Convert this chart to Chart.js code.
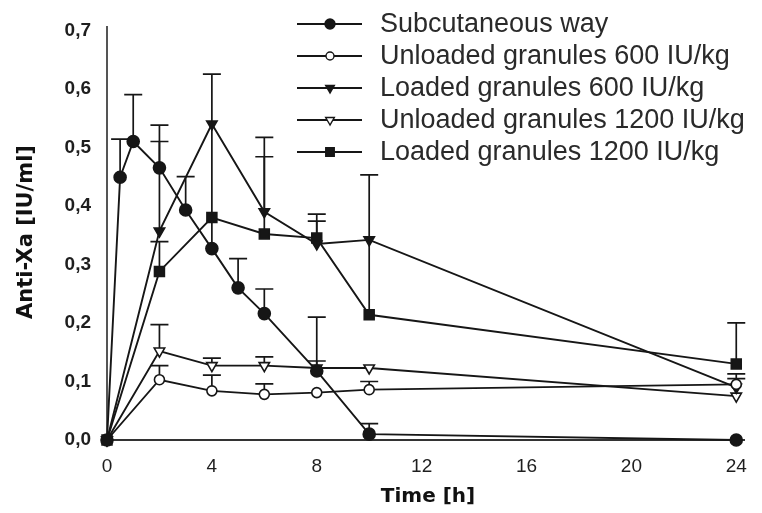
<!DOCTYPE html>
<html>
<head>
<meta charset="utf-8">
<script src="https://cdn.jsdelivr.net/npm/chart.js@4/dist/chart.umd.min.js"></script>
<style>
  html, body { margin: 0; padding: 0; background: #fff; }
  #wrap { width: 762px; height: 513px; }
</style>
</head>
<body>
<div id="wrap"><canvas id="c" width="762" height="513"></canvas></div>
<script>
// Anti-Xa activity over time for each administration route
const seriesNames = [
  'Subcutaneous way',
  'Unloaded granules 600 IU/kg',
  'Loaded granules 600 IU/kg',
  'Unloaded granules 1200 IU/kg',
  'Loaded granules 1200 IU/kg'
];
const subcutTimes  = [0, 0.5, 1, 2, 3, 4, 5, 6, 8, 10, 24];
const granuleTimes = [0, 2, 4, 6, 8, 10, 24];

const subcutaneous      = [0, 0.449, 0.51, 0.465, 0.393, 0.327, 0.26, 0.216, 0.118, 0.01, 0.0];
const subcutaneousTop   = [null, 0.514, 0.59, 0.51, 0.45, 0.625, 0.31, 0.258, 0.21, 0.028, null];

const unloaded600       = [0, 0.103, 0.084, 0.078, 0.081, 0.086, 0.095];
const unloaded600Top    = [null, 0.127, 0.111, 0.096, null, 0.1, 0.105];

const loaded600         = [0, 0.357, 0.54, 0.39, 0.335, 0.342, 0.09];
const loaded600Top      = [null, 0.538, null, 0.517, 0.386, null, null];

const unloaded1200      = [0, 0.152, 0.127, 0.127, 0.123, 0.123, 0.075];
const unloaded1200Top   = [null, 0.197, 0.14, 0.142, 0.135, null, 0.113];

const loaded1200        = [0, 0.288, 0.38, 0.352, 0.345, 0.214, 0.13];
const loaded1200Top     = [null, 0.339, null, 0.484, 0.374, 0.453, 0.2];

const xTicks = [0, 4, 8, 12, 16, 20, 24];
const yTicks = [0, 0.1, 0.2, 0.3, 0.4, 0.5, 0.6, 0.7];
const yTickLabels = ['0,0', '0,1', '0,2', '0,3', '0,4', '0,5', '0,6', '0,7'];

const INK = '#161616';

const toPoints = (xs, ys) => xs.map((x, i) => ({ x: x, y: ys[i] }));

const styles = [
  { pointStyle: 'circle',   radius: 6, fill: INK,    rot: 0 },
  { pointStyle: 'circle',   radius: 5, fill: '#fff', rot: 0 },
  { pointStyle: 'triangle', radius: 6, fill: INK,    rot: 180 },
  { pointStyle: 'triangle', radius: 6, fill: '#fff', rot: 180 },
  { pointStyle: 'rect',     radius: 7, fill: INK,    rot: 0 }
];

const seriesData = [
  { xs: subcutTimes,  ys: subcutaneous, tops: subcutaneousTop },
  { xs: granuleTimes, ys: unloaded600,  tops: unloaded600Top },
  { xs: granuleTimes, ys: loaded600,    tops: loaded600Top },
  { xs: granuleTimes, ys: unloaded1200, tops: unloaded1200Top },
  { xs: granuleTimes, ys: loaded1200,   tops: loaded1200Top }
];

const datasets = seriesData.map((s, i) => ({
  label: seriesNames[i],
  data: toPoints(s.xs, s.ys),
  errTop: s.tops,
  borderColor: INK,
  borderWidth: 1.9,
  pointStyle: styles[i].pointStyle,
  pointRadius: styles[i].radius,
  pointRotation: styles[i].rot,
  pointBackgroundColor: styles[i].fill,
  pointBorderColor: INK,
  pointBorderWidth: 1.6,
  tension: 0,
  fill: false,
  clip: false
}));

// Upper error bars with caps, drawn under the markers
const errorBars = {
  id: 'errorBars',
  beforeDatasetsDraw(chart) {
    const ctx = chart.ctx;
    const xs = chart.scales.x, ys = chart.scales.y;
    ctx.save();
    ctx.strokeStyle = INK;
    ctx.lineWidth = 1.7;
    chart.data.datasets.forEach(ds => {
      ds.data.forEach((p, j) => {
        const top = ds.errTop[j];
        if (top == null) return;
        const px = xs.getPixelForValue(p.x);
        const y0 = ys.getPixelForValue(p.y);
        const y1 = ys.getPixelForValue(top);
        ctx.beginPath();
        ctx.moveTo(px, y0);
        ctx.lineTo(px, y1);
        ctx.moveTo(px - 9, y1);
        ctx.lineTo(px + 9, y1);
        ctx.stroke();
      });
    });
    ctx.restore();
  }
};

function markerPath(ctx, style, x, y, r, rot) {
  ctx.beginPath();
  if (style === 'circle') {
    ctx.arc(x, y, r, 0, Math.PI * 2);
  } else if (style === 'rect') {
    const h = r * Math.SQRT1_2;
    ctx.rect(x - h, y - h, 2 * h, 2 * h);
  } else {
    const sgn = rot === 180 ? 1 : -1;
    ctx.moveTo(x, y + sgn * r);
    ctx.lineTo(x - r * 0.866, y - sgn * r * 0.5);
    ctx.lineTo(x + r * 0.866, y - sgn * r * 0.5);
    ctx.closePath();
  }
}

// Legend block and axis titles
const annotations = {
  id: 'annotations',
  afterDraw(chart) {
    const ctx = chart.ctx;
    ctx.save();
    const legendR = [5, 4, 5, 5, 6];
    chart.data.datasets.forEach((ds, i) => {
      const y = 24 + i * 32;
      ctx.strokeStyle = INK;
      ctx.lineWidth = 1.8;
      ctx.beginPath();
      ctx.moveTo(297, y);
      ctx.lineTo(362, y);
      ctx.stroke();
      markerPath(ctx, styles[i].pointStyle, 330, y, legendR[i], styles[i].rot);
      ctx.fillStyle = styles[i].fill;
      ctx.fill();
      ctx.lineWidth = 1.4;
      ctx.stroke();
      ctx.fillStyle = '#2a2a2a';
      ctx.font = '27px "Liberation Sans", Arial, sans-serif';
      ctx.textAlign = 'left';
      ctx.textBaseline = 'middle';
      ctx.fillText(ds.label, 380, y + 1);
    });

    ctx.fillStyle = '#111';
    ctx.textAlign = 'center';
    ctx.textBaseline = 'middle';
    ctx.font = 'bold 20px "DejaVu Sans", sans-serif';
    ctx.fillText('Time [h]', 428, 497);

    ctx.translate(27, 232);
    ctx.rotate(-Math.PI / 2);
    ctx.font = 'bold 21px "DejaVu Sans", sans-serif';
    ctx.fillText('Anti-Xa [IU/ml]', 0, 0);
    ctx.restore();
  }
};

new Chart(document.getElementById('c'), {
  type: 'line',
  data: { datasets: datasets },
  options: {
    responsive: false,
    animation: false,
    events: [],
    layout: { padding: { left: 0, right: 14, top: 22, bottom: 0 } },
    plugins: { legend: { display: false }, tooltip: { enabled: false } },
    scales: {
      x: {
        type: 'linear',
        min: 0,
        max: 24.3,
        afterBuildTicks: s => { s.ticks = xTicks.map(v => ({ value: v })); },
        afterFit: s => { s.height = 73; },
        grid: { display: false, drawTicks: false },
        border: { display: true, color: '#333', width: 2 },
        ticks: {
          padding: 15,
          color: '#1e1e1e',
          font: { family: '"Liberation Sans", Arial, sans-serif', size: 19 },
          maxRotation: 0
        }
      },
      y: {
        type: 'linear',
        min: 0,
        max: 0.705,
        afterBuildTicks: s => { s.ticks = yTicks.map(v => ({ value: v })); },
        afterFit: s => { s.width = 107; },
        grid: { display: false, drawTicks: false },
        border: { display: true, color: '#555', width: 2 },
        ticks: {
          padding: 16,
          color: '#1e1e1e',
          font: { family: '"Liberation Sans", Arial, sans-serif', size: 19, weight: 'bold' },
          callback: (v, i) => yTickLabels[i]
        }
      }
    }
  },
  plugins: [errorBars, annotations]
});
</script>
</body>
</html>
